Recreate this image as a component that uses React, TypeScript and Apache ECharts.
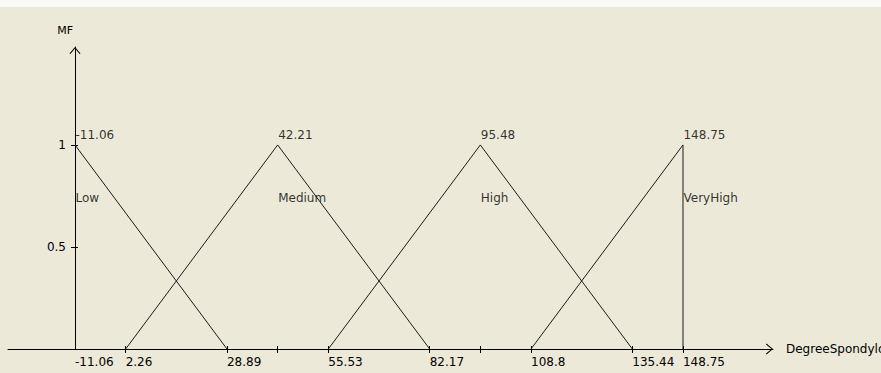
import React, { useEffect, useRef } from "react";
import * as echarts from "echarts";

// ---- data ----
const mfNames = ["Low", "Medium", "High", "VeryHigh"];
const peaks = [-11.06, 42.21, 95.48, 148.75];
const lowPts = [[-11.06, 1], [28.89, 0]];
const mediumPts = [[2.26, 0], [42.21, 1], [82.17, 0]];
const highPts = [[55.53, 0], [95.48, 1], [135.44, 0]];
const veryHighPts = [[108.8, 0], [148.75, 1], [148.75, 0]];
const xTickValues = [2.26, 28.89, 42.21, 55.53, 82.17, 95.48, 108.8, 135.44, 148.75];
const xLabelValues = [-11.06, 2.26, 28.89, 55.53, 82.17, 108.8, 135.44, 148.75];
const yTickValues = [0.5, 1];
const nameLevel = 0.75;
const xAxisName = "DegreeSpondylolisthesis";
const yAxisName = "MF";

const FONT = "DejaVu Sans";
const chevron = "path://M0,7 L6,0 L12,7 L11,7.6 L6,1.6 L1,7.6 Z";

export default function App() {
  const ref = useRef<HTMLDivElement>(null);
  useEffect(() => {
    if (!ref.current) return;
    const chart = echarts.init(ref.current, undefined, { renderer: "svg" });
    const txt = { color: "#000", fontFamily: FONT, fontSize: 12 };
    const lineSeries = (name: string, data: number[][]) => ({
      name,
      type: "line",
      data,
      symbol: "none",
      silent: true,
      lineStyle: { color: "#1a1a1a", width: 1 },
      xAxisIndex: 0,
      yAxisIndex: 0,
    });
    chart.setOption({
      animation: false,
      backgroundColor: "transparent",
      grid: { left: 8, right: 108, top: 47, bottom: 24, containLabel: false, outerBoundsMode: "none" },
      xAxis: [
        {
          type: "value",
          min: -28.67,
          max: 172.41,
          position: "bottom",
          axisLine: {
            show: true,
            onZero: false,
            symbol: ["none", chevron],
            symbolSize: [12, 7],
            symbolOffset: [0, -3.5],
            lineStyle: { color: "#000", width: 1 },
          },
          axisTick: { show: true, customValues: xTickValues, length: 4, lineStyle: { color: "#000" } },
          axisLabel: {
            show: true,
            customValues: xLabelValues,
            formatter: (v: number) => String(v),
            align: "left",
            margin: 7,
            ...txt,
          },
          splitLine: { show: false },
          name: xAxisName,
          nameLocation: "end",
          nameGap: 13,
          nameTextStyle: { ...txt, align: "left", verticalAlign: "middle", padding: [8, 0, 0, 0] },
        },
        {
          type: "value",
          min: -28.67,
          max: 172.41,
          position: "bottom",
          axisLine: { show: false, onZero: false },
          axisTick: { show: true, inside: true, customValues: xTickValues, length: 3, lineStyle: { color: "#000" } },
          axisLabel: { show: false },
          splitLine: { show: false },
        },
      ],
      yAxis: [
        {
          type: "value",
          min: 0,
          max: 1.48,
          position: "left",
          offset: -67,
          axisLine: {
            show: true,
            onZero: false,
            symbol: ["none", chevron],
            symbolSize: [12, 7],
            symbolOffset: [0, -3.5],
            lineStyle: { color: "#000", width: 1 },
          },
          axisTick: { show: true, customValues: yTickValues, length: 4, lineStyle: { color: "#000" } },
          axisLabel: {
            show: true,
            customValues: yTickValues,
            formatter: (v: number) => String(v),
            margin: 9,
            ...txt,
          },
          splitLine: { show: false },
          name: yAxisName,
          nameLocation: "end",
          nameGap: 17,
          nameTextStyle: { ...txt, fontSize: 11, align: "right", verticalAlign: "middle", padding: [0, 2, 0, 0] },
        },
        {
          type: "value",
          min: 0,
          max: 1.48,
          position: "left",
          offset: -67,
          axisLine: { show: false, onZero: false },
          axisTick: { show: true, inside: true, customValues: yTickValues, length: 3, lineStyle: { color: "#000" } },
          axisLabel: { show: false },
          splitLine: { show: false },
        },
      ],
      series: [
        lineSeries("Low", lowPts),
        lineSeries("Medium", mediumPts),
        lineSeries("High", highPts),
        lineSeries("VeryHigh", veryHighPts),
        {
          name: "peakLabels",
          type: "scatter",
          silent: true,
          symbolSize: 1,
          itemStyle: { color: "rgba(0,0,0,0)" },
          data: peaks.map((p) => [p, 1]),
          label: {
            show: true,
            formatter: (p: any) => String(p.value[0]),
            position: [1, -9],
            align: "left",
            verticalAlign: "middle",
            ...txt,
          },
        },
        {
          name: "nameLabels",
          type: "scatter",
          silent: true,
          symbolSize: 1,
          itemStyle: { color: "rgba(0,0,0,0)" },
          data: mfNames.map((n, i) => ({ name: n, value: [peaks[i], nameLevel] })),
          label: {
            show: true,
            formatter: "{b}",
            position: [1, 3],
            align: "left",
            verticalAlign: "middle",
            ...txt,
          },
        },
      ],
    });
    return () => chart.dispose();
  }, []);
  return (
    <div
      ref={ref}
      style={{
        position: "absolute",
        left: 0,
        top: 0,
        width: 881,
        height: 373,
        background: "linear-gradient(#f9f9f7 0px, #f9f9f7 7px, #ECE9D8 7px)",
      }}
    />
  );
}
